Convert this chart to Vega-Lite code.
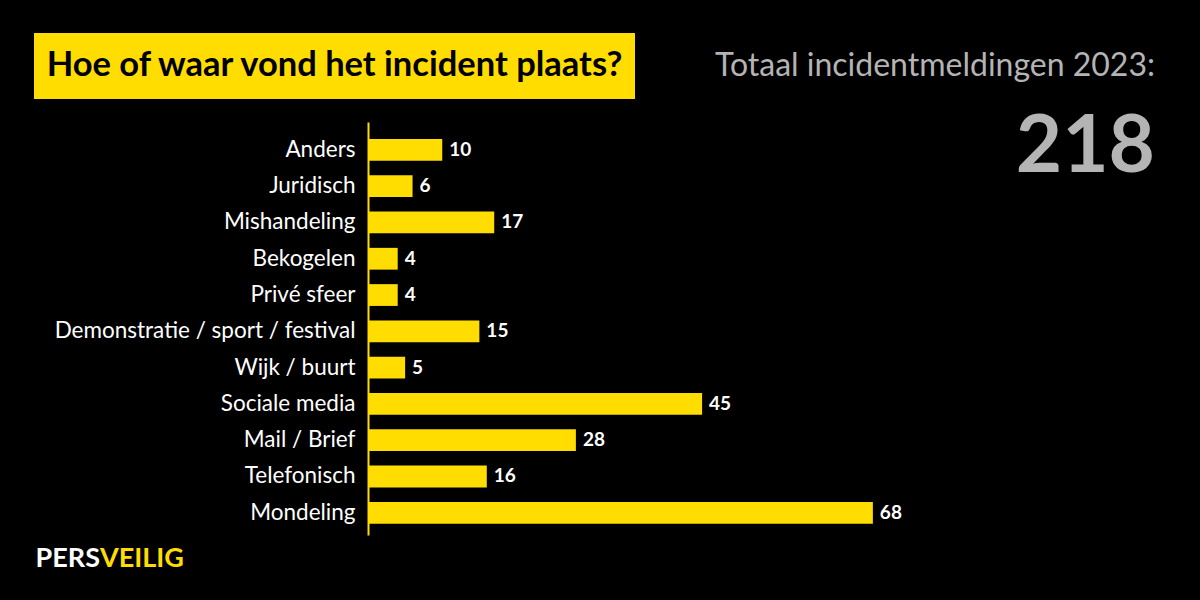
{
  "$schema": "https://vega.github.io/schema/vega-lite/v6.json",
  "background": "#000000",
  "padding": {"left": 34, "top": 33, "right": 0, "bottom": 0},
  "config": {"view": {"stroke": null}, "font": "Lato"},
  "bounds": "full",
  "spacing": 10,
  "vconcat": [
    {
      "bounds": "flush",
      "spacing": 23,
      "vconcat": [
        {
          "width": 601,
          "height": 66,
          "view": {"fill": "#FFDD00"},
          "data": {"values": [{"t": "Hoe of waar vond het incident plaats?"}]},
          "mark": {"type": "text", "align": "center", "baseline": "middle", "font": "Lato", "fontSize": 34.5, "fontWeight": "bold", "color": "#000000"},
          "encoding": {"text": {"field": "t"}}
        },
        {
          "bounds": "flush",
          "spacing": 0,
          "hconcat": [
            {
              "width": 334,
              "height": 1,
              "data": {"values": [{"t": ""}]},
              "mark": {"type": "text"},
              "encoding": {"text": {"field": "t"}}
            },
            {
              "width": 787,
              "height": 413,
              "data": {"values": [
                {"categorie": "Anders", "aantal": 10},
                {"categorie": "Juridisch", "aantal": 6},
                {"categorie": "Mishandeling", "aantal": 17},
                {"categorie": "Bekogelen", "aantal": 4},
                {"categorie": "Privé sfeer", "aantal": 4},
                {"categorie": "Demonstratie / sport / festival", "aantal": 15},
                {"categorie": "Wijk / buurt", "aantal": 5},
                {"categorie": "Sociale media", "aantal": 45},
                {"categorie": "Mail / Brief", "aantal": 28},
                {"categorie": "Telefonisch", "aantal": 16},
                {"categorie": "Mondeling", "aantal": 68}
              ]},
              "title": {
                "text": "Totaal incidentmeldingen 2023:",
                "subtitle": "218",
                "orient": "top",
                "anchor": "end",
                "frame": "group",
                "offset": -67,
                "font": "Lato",
                "fontSize": 32,
                "fontWeight": "normal",
                "color": "#B4B4B4",
                "subtitleFont": "Lato",
                "subtitleFontSize": 80,
                "subtitleFontWeight": "bold",
                "subtitleColor": "#B4B4B4",
                "subtitlePadding": 26
              },
              "encoding": {
                "y": {
                  "field": "categorie",
                  "type": "nominal",
                  "sort": null,
                  "scale": {"paddingInner": 0.4, "paddingOuter": 0.39, "align": 0.6},
                  "axis": {
                    "title": null,
                    "ticks": false,
                    "labelColor": "#FFFFFF",
                    "labelFont": "Lato",
                    "labelFontSize": 22.5,
                    "labelPadding": 13,
                    "labelLimit": 400,
                    "domainColor": "#FFDD00",
                    "domainWidth": 2
                  }
                },
                "x": {
                  "field": "aantal",
                  "type": "quantitative",
                  "scale": {"domain": [0, 106], "nice": false},
                  "axis": null
                }
              },
              "layer": [
                {"mark": {"type": "bar", "color": "#FFDD00"}},
                {
                  "mark": {"type": "text", "align": "left", "baseline": "middle", "dx": 7, "font": "Lato", "fontSize": 19, "fontWeight": "bold", "color": "#FFFFFF"},
                  "encoding": {"text": {"field": "aantal", "type": "quantitative"}}
                }
              ]
            }
          ]
        }
      ]
    },
    {
      "bounds": "flush",
      "spacing": 0,
      "hconcat": [
        {
          "width": 132,
          "height": 24,
          "layer": [
            {
              "data": {"values": [{"t": "PERS"}]},
              "mark": {"type": "text", "align": "right", "baseline": "middle", "font": "Lato", "fontSize": 27, "fontWeight": "bold", "color": "#FFFFFF"},
              "encoding": {"text": {"field": "t"}}
            },
            {
              "data": {"values": [{"t": "VEILIG"}]},
              "mark": {"type": "text", "align": "left", "baseline": "middle", "font": "Lato", "fontSize": 27, "fontWeight": "bold", "color": "#FFDD00"},
              "encoding": {"text": {"field": "t"}}
            }
          ]
        },
        {
          "width": 1034,
          "height": 55,
          "data": {"values": [{"t": ""}]},
          "mark": {"type": "text"},
          "encoding": {"text": {"field": "t"}}
        }
      ]
    }
  ]
}
